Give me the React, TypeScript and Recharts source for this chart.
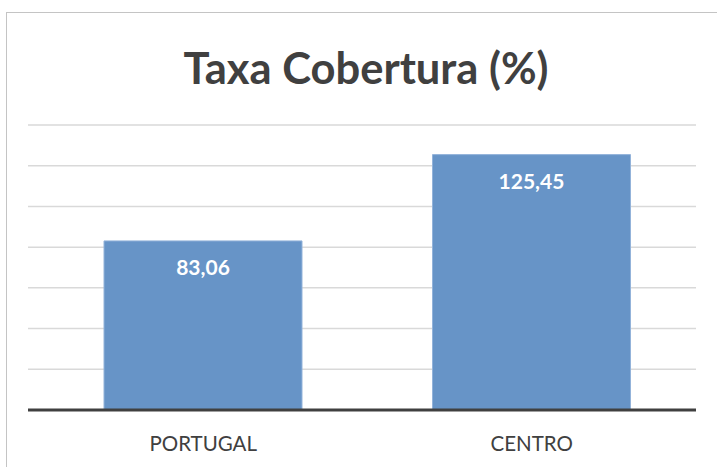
import { BarChart, Bar, XAxis, YAxis, CartesianGrid, LabelList } from 'recharts';

const categories = ['PORTUGAL', 'CENTRO'];
const values = [83.06, 125.45];
const yTicks = [0, 20, 40, 60, 80, 100, 120, 140];

const data = categories.map((name, i) => ({ name, value: values[i] }));

const FONT = 'Lato, "Open Sans", sans-serif';

export default function App() {
  return (
    <div style={{ position: 'absolute', left: 0, top: 0, width: 717, height: 467, background: '#fff', overflow: 'hidden' }}>
      {/* chart frame: only left and top edges are visible */}
      <div
        style={{
          position: 'absolute', left: 6, top: 12, width: 760, height: 500,
          borderLeft: '1px solid #c4c4c4', borderTop: '1px solid #c4c4c4',
        }}
      />
      <div
        style={{
          position: 'absolute', left: 0, top: 40, width: 732, textAlign: 'center',
          fontFamily: FONT, fontWeight: 700, fontSize: 43.5, color: '#404040', lineHeight: '54px',
        }}
      >
        Taxa Cobertura (%)
      </div>
      <BarChart
        width={717}
        height={467}
        data={data}
        margin={{ top: 125, right: 21, bottom: 27, left: 28 }}
        style={{ position: 'absolute', left: 0, top: 0 }}
      >
        <CartesianGrid vertical={false} stroke="#d9d9d9" strokeWidth={1.5} />
        <YAxis hide domain={[0, 140]} ticks={yTicks} />
        <XAxis
          dataKey="name"
          padding={{ left: 11, right: 0 }}
          axisLine={{ stroke: '#404040', strokeWidth: 3 }}
          tickLine={false}
          tick={{ fontSize: 20.5, fill: '#404040', fontFamily: FONT }}
          dy={18}
        />
        <Bar dataKey="value" fill="#6794C7" stroke="#93B3DA" strokeWidth={1} barSize={198} isAnimationActive={false}>
          <LabelList
            dataKey="value"
            position="insideTop"
            offset={19}
            fill="#ffffff"
            fontSize={21}
            fontWeight={700}
            fontFamily={FONT}
            formatter={(v: number) => v.toFixed(2).replace('.', ',')}
          />
        </Bar>
      </BarChart>
    </div>
  );
}
